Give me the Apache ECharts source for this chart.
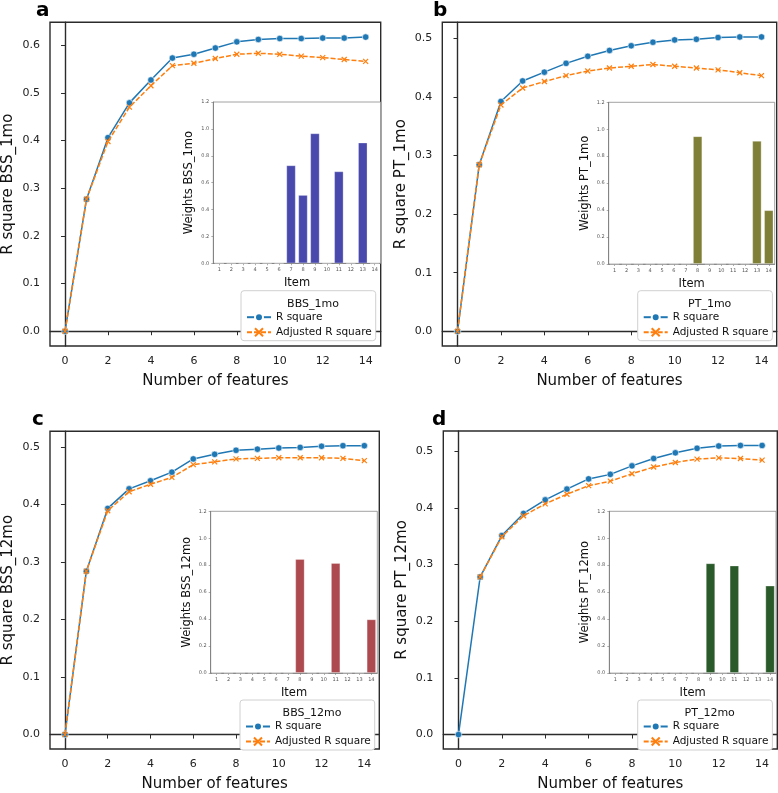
<!DOCTYPE html>
<html>
<head>
<meta charset="utf-8">
<script src="https://cdn.jsdelivr.net/npm/echarts@6/dist/echarts.min.js"></script>
<style>html,body{margin:0;padding:0;background:#fff}#c{width:778px;height:793px}</style>
</head>
<body>
<div id="c"></div>
<script>
// ---------- data ----------
const featureCounts = [0,1,2,3,4,5,6,7,8,9,10,11,12,13,14];
const xTickValues = [0,2,4,6,8,10,12,14];
const items = ['1','2','3','4','5','6','7','8','9','10','11','12','13','14'];

const rsqBSS1 = [0,0.277,0.406,0.479,0.527,0.573,0.581,0.594,0.607,0.612,0.614,0.614,0.615,0.615,0.617];
const adjBSS1 = [0,0.277,0.398,0.470,0.515,0.557,0.562,0.572,0.581,0.583,0.581,0.577,0.574,0.570,0.566];
const rsqPT1  = [0,0.284,0.392,0.427,0.442,0.457,0.469,0.479,0.487,0.493,0.497,0.498,0.501,0.502,0.502];
const adjPT1  = [0,0.284,0.386,0.415,0.426,0.436,0.444,0.449,0.452,0.455,0.452,0.449,0.446,0.441,0.436];
const rsqBSS12 = [0,0.284,0.393,0.427,0.441,0.456,0.479,0.487,0.494,0.496,0.498,0.499,0.501,0.502,0.502];
const adjBSS12 = [0,0.284,0.389,0.422,0.435,0.447,0.469,0.474,0.479,0.480,0.481,0.481,0.481,0.480,0.476];
const rsqPT12 = [0,0.278,0.351,0.390,0.414,0.433,0.451,0.459,0.474,0.487,0.497,0.505,0.509,0.510,0.510];
const adjPT12 = [null,0.278,0.349,0.386,0.407,0.424,0.439,0.447,0.460,0.472,0.480,0.486,0.488,0.487,0.484];

const weightsBSS1  = [0,0,0,0,0,0,0.729,0.508,0.967,0,0.684,0,0.898,0];
const weightsPT1   = [0,0,0,0,0,0,0,0.948,0,0,0,0,0.913,0.399];
const weightsBSS12 = [0,0,0,0,0,0,0,0.846,0,0,0.816,0,0,0.398];
const weightsPT12  = [0,0,0,0,0,0,0,0,0.814,0,0.797,0,0,0.648];

const yTicksBSS1 = [0,0.1,0.2,0.3,0.4,0.5,0.6];
const yTicks5 = [0,0.1,0.2,0.3,0.4,0.5];

// ---------- layout / style ----------
const FONT = 'DejaVu Sans';
const BLUE = '#1f77b4', ORANGE = '#ff7f0e';
const XSYM = 'path://M0,0L10,10M10,0L0,10';

const panels = [
  {letter:'a', lx:31, ly:-4, main:{left:47.7, top:22.3, width:333, height:323.7}, yRange:[-0.031,0.648], yTicks:yTicksBSS1,
   yName:'R square BSS_1mo', R:rsqBSS1, A:adjBSS1,
   inset:{left:213.3, top:102, width:167.4, height:161.3}, w:weightsBSS1, wName:'Weights BSS_1mo', barColor:'#4949ad',
   legend:{left:241, top:290.7, title:'BBS_1mo'}},
  {letter:'b', lx:428, ly:-4, main:{left:442.3, top:22.3, width:334.4, height:323.7}, yRange:[-0.025,0.527], yTicks:yTicks5,
   yName:'R square PT_1mo', R:rsqPT1, A:adjPT1,
   inset:{left:608.7, top:102.3, width:166, height:161.7}, w:weightsPT1, wName:'Weights PT_1mo', barColor:'#7f7f37',
   legend:{left:637.7, top:290.7, title:'PT_1mo'}},
  {letter:'c', lx:27, ly:405, main:{left:45.7, top:431.3, width:333.6, height:324}, yRange:[-0.025,0.527], yTicks:yTicks5,
   yName:'R square BSS_12mo', R:rsqBSS12, A:adjBSS12,
   inset:{left:210.7, top:511.3, width:166.6, height:161.7}, w:weightsBSS12, wName:'Weights BSS_12mo', barColor:'#ad4a4f',
   legend:{left:240, top:700, title:'BBS_12mo'}},
  {letter:'d', lx:427, ly:405, main:{left:443.3, top:431, width:334, height:324.3}, yRange:[-0.0255,0.5355], yTicks:yTicks5,
   yName:'R square PT_12mo', R:rsqPT12, A:adjPT12,
   inset:{left:609.3, top:511.3, width:166.7, height:161.7}, w:weightsPT12, wName:'Weights PT_12mo', barColor:'#2b5a2a',
   legend:{left:637.7, top:700, title:'PT_12mo'}}
];

const option = {
  animation:false,
  backgroundColor:'#fff',
  textStyle:{fontFamily:FONT},
  title:[], grid:[], xAxis:[], yAxis:[], series:[], legend:[]
};

panels.forEach((p, i) => {
  option.grid.push(Object.assign({show:true, borderColor:'#2b2b2b', borderWidth:1.4, backgroundColor:'#fff', z:0}, p.main));
  option.xAxis.push({
    type:'value', gridIndex:i, min:-0.7, max:14.7,
    name:'Number of features', nameLocation:'middle', nameGap:28,
    nameTextStyle:{fontFamily:FONT, fontSize:15, color:'#111'},
    axisLine:{show:true, lineStyle:{color:'#2b2b2b', width:1.4}},
    axisTick:{show:true, length:4, lineStyle:{color:'#2b2b2b', width:1}, customValues:xTickValues},
    axisLabel:{fontFamily:FONT, fontSize:11, color:'#222', margin:10, customValues:xTickValues},
    splitLine:{show:false}
  });
  option.yAxis.push({
    type:'value', gridIndex:i, min:p.yRange[0], max:p.yRange[1],
    name:p.yName, nameLocation:'middle', nameGap:34,
    nameTextStyle:{fontFamily:FONT, fontSize:15, color:'#111'},
    axisLine:{show:true, lineStyle:{color:'#2b2b2b', width:1.4}},
    axisTick:{show:true, length:4, lineStyle:{color:'#2b2b2b', width:1}, customValues:p.yTicks},
    axisLabel:{fontFamily:FONT, fontSize:11, color:'#222', margin:10, customValues:p.yTicks,
      formatter:v => v.toFixed(1)},
    splitLine:{show:false}
  });
  option.series.push({
    type:'line', name:'R square', xAxisIndex:i, yAxisIndex:i,
    data:featureCounts.map((x,k)=>[x,p.R[k]]),
    symbol:'circle', symbolSize:6.5, showSymbol:true,
    lineStyle:{color:BLUE, width:1.5},
    itemStyle:{color:BLUE, borderColor:'#fff', borderWidth:0.6},
    z:3
  });
  option.series.push({
    type:'line', name:'Adjusted R square', xAxisIndex:i, yAxisIndex:i,
    data:featureCounts.map((x,k)=>[x,p.A[k]]),
    symbol:XSYM, symbolSize:5, showSymbol:true, connectNulls:false,
    lineStyle:{color:ORANGE, width:1.5, type:[5,2]},
    itemStyle:{color:ORANGE, borderColor:ORANGE, borderWidth:1.2},
    z:4
  });
  option.title.push({text:p.letter, left:p.lx, top:p.ly,
    textStyle:{fontFamily:FONT, fontSize:20, fontWeight:'bold', color:'#000'}});
});

panels.forEach((p, i) => {
  const gi = 4 + i;
  option.grid.push(Object.assign({show:true, borderColor:'#8a8a8a', borderWidth:0.8, backgroundColor:'#fff', z:5}, p.inset));
  option.xAxis.push({
    type:'category', gridIndex:gi, data:items,
    name:'Item', nameLocation:'middle', nameGap:14,
    nameTextStyle:{fontFamily:FONT, fontSize:11.5, color:'#111'},
    axisLine:{show:true, lineStyle:{color:'#777', width:0.8}},
    axisTick:{show:true, alignWithLabel:true, length:2, lineStyle:{color:'#777', width:0.6}},
    axisLabel:{interval:0, fontFamily:FONT, fontSize:5, color:'#555', margin:4},
    splitLine:{show:false}, z:6
  });
  option.yAxis.push({
    type:'value', gridIndex:gi, min:0, max:1.2, interval:0.2,
    name:p.wName, nameLocation:'middle', nameGap:18,
    nameTextStyle:{fontFamily:FONT, fontSize:11.5, color:'#111'},
    axisLine:{show:true, lineStyle:{color:'#777', width:0.8}},
    axisTick:{show:true, length:2, lineStyle:{color:'#777', width:0.6}},
    axisLabel:{fontFamily:FONT, fontSize:5, color:'#555', margin:4, formatter:v=>v.toFixed(1)},
    splitLine:{show:false}, z:6
  });
  option.series.push({
    type:'bar', name:p.wName, xAxisIndex:gi, yAxisIndex:gi,
    data:p.w, barWidth:'78%',
    itemStyle:{color:p.barColor, borderColor:'rgba(255,255,255,0.35)', borderWidth:0.8},
    z:7
  });
  option.legend.push({
    left:p.legend.left, top:p.legend.top, orient:'vertical',
    data:['R square','Adjusted R square'],
    backgroundColor:'#fff', borderColor:'#d0d0d0', borderWidth:1, borderRadius:3,
    padding:[21,4,3,5], itemGap:4, itemWidth:24, itemHeight:10,
    textStyle:{fontFamily:FONT, fontSize:10.5, color:'#111'},
    selectedMode:false, z:8
  });
  option.title.push({text:p.legend.title, left:p.legend.left + 67, top:p.legend.top + 3, textAlign:'center',
    textStyle:{fontFamily:FONT, fontSize:11, fontWeight:'normal', color:'#111'}, z:9});
});

const chart = echarts.init(document.getElementById('c'), null, {renderer:'canvas'});
chart.setOption(option);
</script>
</body>
</html>
